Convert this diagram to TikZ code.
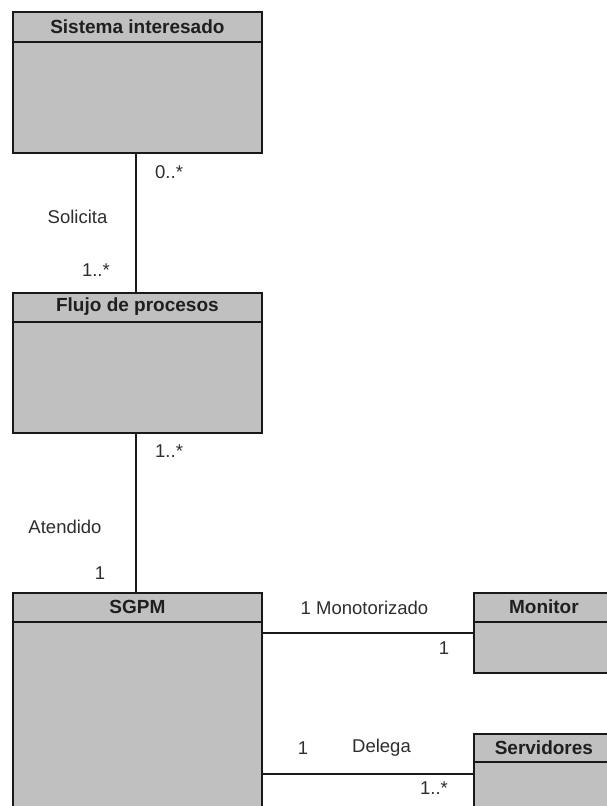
\documentclass[tikz,border=0pt]{standalone}
\usepackage{fontspec}
\setmainfont{Liberation Sans}
\begin{document}
\begin{tikzpicture}[x=1pt,y=-1pt,
  cls/.style={draw=black!90, line width=1.8pt, fill=classgray, rectangle,
    anchor=north west, inner sep=0pt},
  ctitle/.style={font=\fontsize{19}{22}\selectfont\bfseries, text=black!88, inner sep=0pt},
  mult/.style={font=\fontsize{18.5}{22}\selectfont, text=black!82, inner sep=0pt},
  assoc/.style={draw=black!90, line width=1.6pt},
  divider/.style={draw=black!90, line width=1.8pt}
]
\definecolor{classgray}{RGB}{192,192,192}
\useasboundingbox (0,0) rectangle (607,806);
\clip (0,0) rectangle (607,806);
\fill[white] (0,0) rectangle (607,806);

% classes
\node[cls, minimum width=249pt, minimum height=141pt] (sis) at (12,11) {};
\node[cls, minimum width=249pt, minimum height=140pt] (flujo) at (12,292) {};
\node[cls, minimum width=249pt, minimum height=260pt] (sgpm) at (12,592) {};
\node[cls, minimum width=140pt, minimum height=80pt] (mon) at (473,592) {};
\node[cls, minimum width=140pt, minimum height=80pt] (serv) at (473,733) {};

% header compartments
\draw[divider] ([yshift=-31pt]sis.north west) -- ([yshift=-31pt]sis.north east);
\draw[divider] ([yshift=-30pt]flujo.north west) -- ([yshift=-30pt]flujo.north east);
\draw[divider] ([yshift=-30pt]sgpm.north west) -- ([yshift=-30pt]sgpm.north east);
\draw[divider] ([yshift=-30pt]mon.north west) -- ([yshift=-30pt]mon.north east);
\draw[divider] ([yshift=-29pt]serv.north west) -- ([yshift=-29pt]serv.north east);

% class names
\node[ctitle] (tsis) at ([yshift=-16pt]sis.north) {Sistema interesado};
\node[ctitle] (tflujo) at ([yshift=-15pt]flujo.north) {Flujo de procesos};
\node[ctitle] (tsgpm) at ([yshift=-15pt]sgpm.north) {SGPM};
\node[ctitle] (tmon) at ([yshift=-15pt]mon.north) {Monitor};
\node[ctitle] (tserv) at ([yshift=-15pt]serv.north) {Servidores};

% associations
\draw[assoc] (sis.south -| 136,0) -- (flujo.north -| 136,0);
\draw[assoc] (flujo.south -| 136,0) -- (sgpm.north -| 136,0);
\draw[assoc] (mon.west) -- (mon.west -| sgpm.east);
\draw[assoc] (serv.west) -- (serv.west -| sgpm.east);

% association names and multiplicities
\node[mult, anchor=west] (m1) at (155,172) {0..*};
\node[mult] (n1) at (77.5,217) {Solicita};
\node[mult, anchor=east] (m2) at (110,270) {1..*};
\node[mult, anchor=west] (m3) at (155,451) {1..*};
\node[mult] (n2) at (65,527) {Atendido};
\node[mult] (m4) at (100,573) {1};
\node[mult] (n3) at (364.5,608) {1 Monotorizado};
\node[mult] (m5) at (444,648) {1};
\node[mult] (m6) at (303,748) {1};
\node[mult] (n4) at (381.5,748) {Delega};
\node[mult] (m7) at (434,788) {1..*};
\end{tikzpicture}
\end{document}
